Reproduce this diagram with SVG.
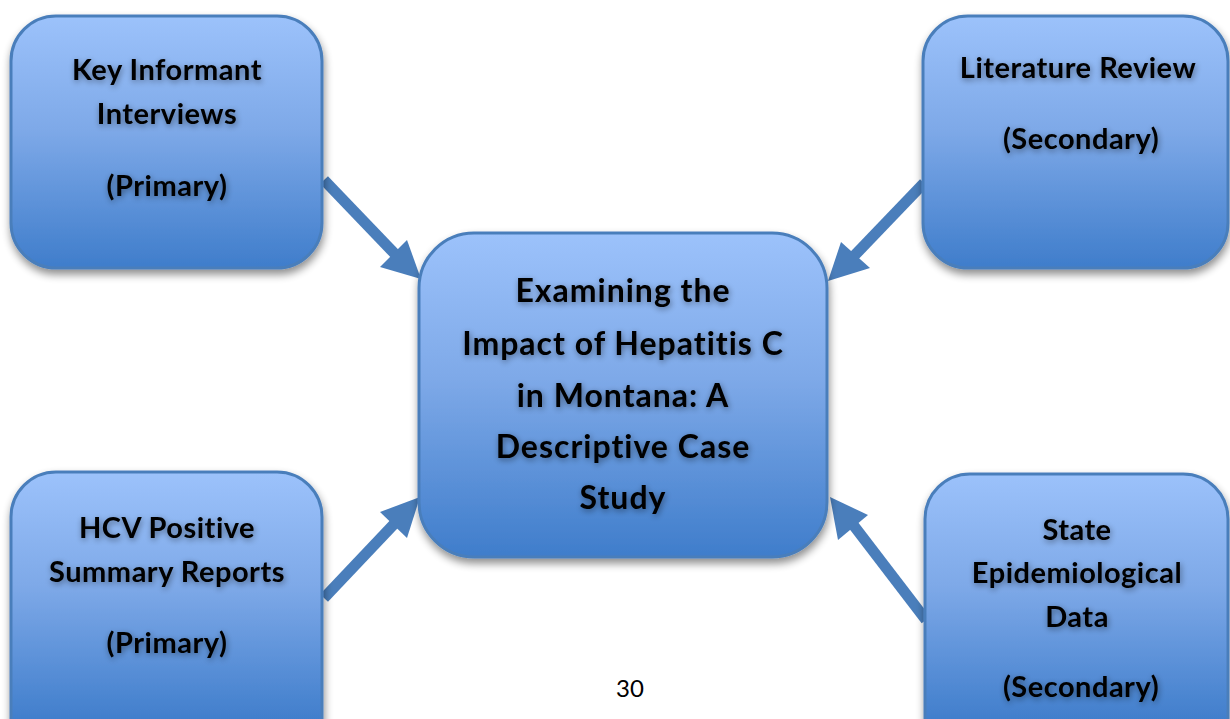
<svg xmlns="http://www.w3.org/2000/svg" width="1230" height="719" viewBox="0 0 1230 719">
<style>
  .box { stroke: #4a7ebb; stroke-width: 3; }
  .lbl { font-family: Lato, "Open Sans", sans-serif; font-weight: bold; font-size: 29px; letter-spacing: 0.5px; font-variant-ligatures: none; fill: #000; text-anchor: middle; filter: url(#tshadow); }
  .big { font-size: 32px; letter-spacing: 1px; }
  .conn { stroke: #4a7ebb; stroke-width: 11; fill: none; }
  .head { fill: #4a7ebb; }
</style>
<defs>
  <linearGradient id="gTop" gradientUnits="userSpaceOnUse" x1="0" y1="16" x2="0" y2="268">
    <stop offset="0" stop-color="#9cc2fb"/>
    <stop offset="0.45" stop-color="#7ea9e8"/>
    <stop offset="1" stop-color="#3f7dcb"/>
  </linearGradient>
  <linearGradient id="gMid" gradientUnits="userSpaceOnUse" x1="0" y1="233" x2="0" y2="557">
    <stop offset="0" stop-color="#9cc2fb"/>
    <stop offset="0.45" stop-color="#7ea9e8"/>
    <stop offset="1" stop-color="#3f7dcb"/>
  </linearGradient>
  <linearGradient id="gBot" gradientUnits="userSpaceOnUse" x1="0" y1="472" x2="0" y2="724">
    <stop offset="0" stop-color="#9cc2fb"/>
    <stop offset="0.45" stop-color="#7ea9e8"/>
    <stop offset="1" stop-color="#3f7dcb"/>
  </linearGradient>
  <filter id="bshadow" x="-10%" y="-10%" width="125%" height="130%">
    <feGaussianBlur in="SourceAlpha" stdDeviation="4"/>
    <feOffset dx="1" dy="5" result="b"/>
    <feComponentTransfer><feFuncA type="linear" slope="0.45"/></feComponentTransfer>
    <feMerge><feMergeNode/><feMergeNode in="SourceGraphic"/></feMerge>
  </filter>
  <filter id="tshadow" x="-10%" y="-30%" width="120%" height="160%">
    <feGaussianBlur in="SourceAlpha" stdDeviation="3"/>
    <feOffset dx="1" dy="2"/>
    <feComponentTransfer><feFuncA type="linear" slope="0.45"/></feComponentTransfer>
    <feMerge><feMergeNode/><feMergeNode in="SourceGraphic"/></feMerge>
  </filter>
</defs>

<g id="connectors">
  <line class="conn" x1="324" y1="180" x2="395" y2="254"/>
  <polygon class="head" points="421,279 380,267 407,240"/>
  <line class="conn" x1="924" y1="183" x2="853" y2="257"/>
  <polygon class="head" points="828,281 841,242 870,268"/>
  <line class="conn" x1="324" y1="598" x2="396" y2="522"/>
  <polygon class="head" points="420,497 407,538 380,512"/>
  <line class="conn" x1="926" y1="620" x2="851" y2="522"/>
  <polygon class="head" points="830,497 868,515 838,540"/>
</g>

<g id="node-key-informant">
  <rect class="box" x="11" y="16" width="311" height="252" rx="45" fill="url(#gTop)" filter="url(#bshadow)"/>
  <text class="lbl" x="167" y="80">Key Informant</text>
  <text class="lbl" x="167" y="124">Interviews</text>
  <text class="lbl" x="167" y="196">(Primary)</text>
</g>

<g id="node-literature">
  <rect class="box" x="923" y="16" width="305" height="252" rx="45" fill="url(#gTop)" filter="url(#bshadow)"/>
  <text class="lbl" x="1078" y="78">Literature Review</text>
  <text class="lbl" x="1081" y="149">(Secondary)</text>
</g>

<g id="node-center">
  <rect class="box" x="419" y="233" width="408" height="324" rx="55" fill="url(#gMid)" filter="url(#bshadow)"/>
  <text class="lbl big" x="623" y="302">Examining the</text>
  <text class="lbl big" x="623" y="355">Impact of Hepatitis C</text>
  <text class="lbl big" x="623" y="407">in Montana: A</text>
  <text class="lbl big" x="623" y="458">Descriptive Case</text>
  <text class="lbl big" x="623" y="509">Study</text>
</g>

<g id="node-hcv">
  <rect class="box" x="11" y="472" width="311" height="300" rx="45" fill="url(#gBot)" filter="url(#bshadow)"/>
  <text class="lbl" x="167" y="538">HCV Positive</text>
  <text class="lbl" x="167" y="582">Summary Reports</text>
  <text class="lbl" x="167" y="653">(Primary)</text>
</g>

<g id="node-state">
  <rect class="box" x="925" y="474" width="303" height="300" rx="45" fill="url(#gBot)" filter="url(#bshadow)"/>
  <text class="lbl" x="1077" y="540">State</text>
  <text class="lbl" x="1077" y="583">Epidemiological</text>
  <text class="lbl" x="1077" y="627">Data</text>
  <text class="lbl" x="1081" y="697">(Secondary)</text>
</g>

<text x="630" y="697" font-family="Lato, 'Open Sans', sans-serif" font-size="24" text-anchor="middle" fill="#000">30</text>
</svg>
